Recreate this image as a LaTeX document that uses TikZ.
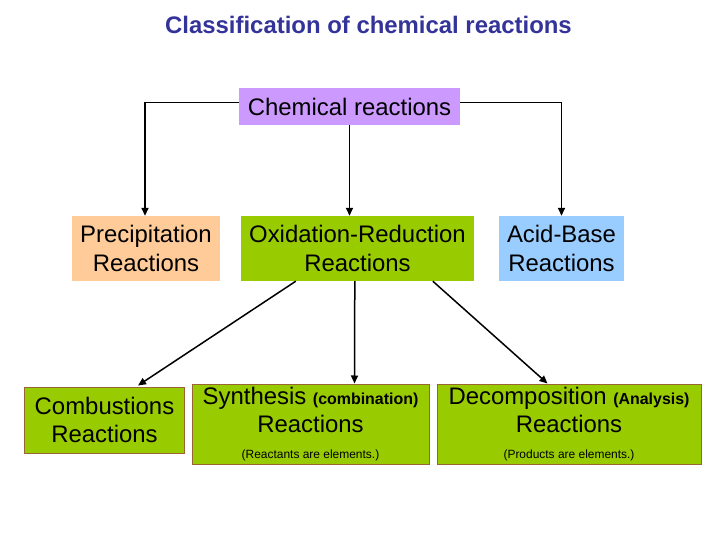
\documentclass[tikz,border=0pt]{standalone}
\usepackage{fontspec}
\setmainfont{Liberation Sans}
\usetikzlibrary{arrows.meta,calc}
\definecolor{titleblue}{HTML}{333399}
\definecolor{purplebox}{HTML}{CC99FF}
\definecolor{peachbox}{HTML}{FFCC99}
\definecolor{greenbox}{HTML}{99CC00}
\definecolor{bluebox}{HTML}{99CCFF}
\definecolor{brownline}{HTML}{996633}
\newcommand{\bigtxt}{\fontsize{24}{28.5}\selectfont}
\newcommand{\midtxt}{\fontsize{16}{19}\selectfont\bfseries}
\newcommand{\smalltxt}{\fontsize{12}{14}\selectfont}
\tikzset{
  box/.style={inner sep=0pt, align=center, font=\bigtxt, text=black},
  lowbox/.style={box, fill=greenbox, draw=brownline, line width=1bp},
  arr/.style={line width=1.5bp, -{Triangle[length=8bp,width=7bp]}},
}
\begin{document}
\begin{tikzpicture}[x=1bp,y=-1bp]
\useasboundingbox (0,0) rectangle (720,540);
\node[anchor=base, text=titleblue, font=\fontsize{24}{28}\selectfont\bfseries] (title) at (368.5,34) {Classification of chemical reactions};

\node[box, fill=purplebox, minimum width=221bp, minimum height=37bp] (cr) at (349.5,106.5) {Chemical reactions};
\node[box, fill=peachbox, minimum width=148bp, minimum height=65bp] (pr) at (146,248.5) {Precipitation\\Reactions};
\node[box, fill=greenbox, minimum width=233bp, minimum height=65bp] (ox) at (357.5,248.5) {Oxidation-Reduction\\Reactions};
\node[box, fill=bluebox, minimum width=125bp, minimum height=65bp] (ab) at (561.5,248.5) {Acid-Base\\Reactions};

\node[lowbox, minimum width=159bp, minimum height=66bp] (co) at (104.5,420) {Combustions\\Reactions};
\node[lowbox, minimum width=237bp, minimum height=80bp] (sy) at (310.5,424) {Synthesis {\midtxt (combination)}\\Reactions\\[-2bp]{\smalltxt (Reactants are elements.)}};
\node[lowbox, minimum width=264bp, minimum height=80bp] (de) at (569,424) {Decomposition {\midtxt (Analysis)}\\Reactions\\[-2bp]{\smalltxt (Products are elements.)}};

\draw[arr] ([yshift=4bp]cr.west) -| ([xshift=-1bp]pr.north);
\draw[arr] ([yshift=4bp]cr.east) -| (ab.north);
\draw[arr] (cr.south) -- (cr.south |- ox.north);
\draw[arr] ($(ox.south west)+(55,0)$) -- ($(co.north)+(33.5,-1)$);
\draw[arr] ($(ox.south west)+(114,0)$) -- ($(sy.north west)+(163,0)$);
\draw[arr] ($(ox.south west)+(192,0)$) -- ($(de.north west)+(111,0)$);
\end{tikzpicture}
\end{document}
